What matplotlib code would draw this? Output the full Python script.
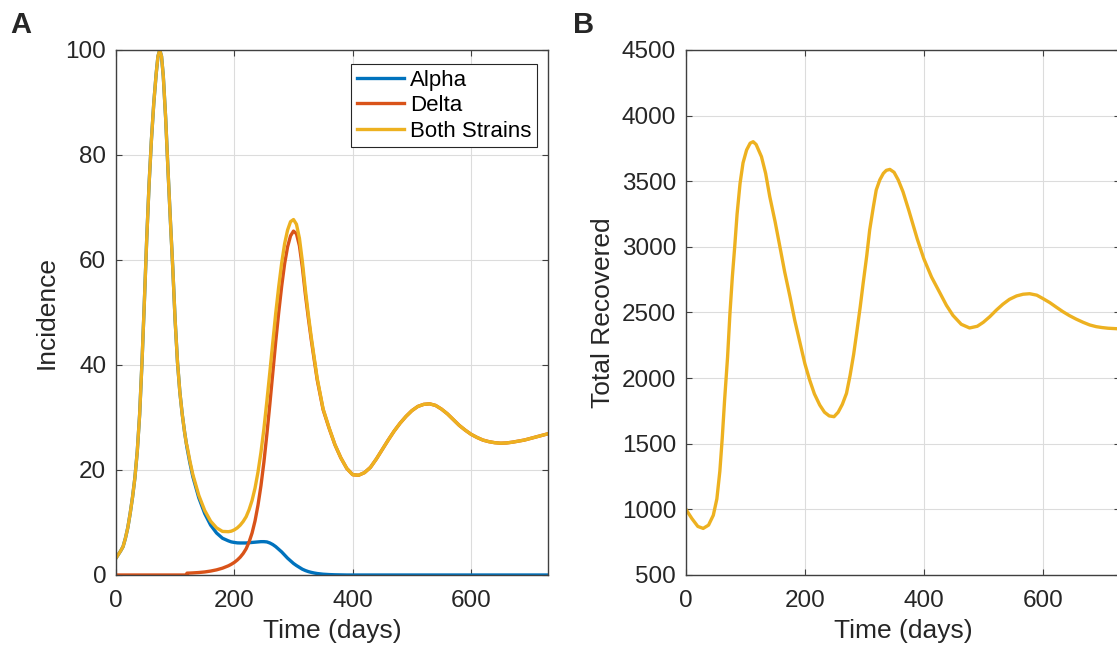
import numpy as np
import matplotlib
matplotlib.use("Agg")
import matplotlib.pyplot as plt

# colours of the two strains and their sum (matlab defaults)
BLUE = "#0072BD"
RED = "#D95319"
YELLOW = "#EDB120"

# panel A - incidence
days = [0, 4, 8, 12, 16, 20, 24, 28, 32, 36, 40, 44, 48, 52, 56, 60, 64, 68, 71, 74,
        77, 80, 84, 88, 92, 96, 100, 104, 108, 112, 116, 119, 120, 125, 130, 140, 150,
        160, 170, 180, 190, 195, 200, 205, 210, 215, 220, 225, 230, 235, 240, 245, 250,
        255, 260, 265, 270, 275, 280, 285, 290, 295, 300, 305, 310, 315, 320, 325, 330,
        335, 340, 350, 360, 370, 380, 390, 400, 410, 420, 430, 440, 450, 460, 470, 480,
        490, 500, 510, 520, 530, 540, 550, 560, 570, 580, 590, 600, 610, 620, 630, 640,
        650, 660, 670, 680, 690, 700, 710, 720, 730]

alpha = [3.2, 3.9, 4.6, 5.4, 7.0, 9.0, 11.7, 14.8, 18.5, 23.5, 30.5, 40.5, 52, 64, 74.5,
         83, 90, 95.5, 98.8, 100, 98.8, 95, 87, 77, 67.5, 58.5, 48.5, 40.5, 34.8, 30.6, 27.2,
         25.0, 24.3, 21.3, 18.7, 14.7, 11.7, 9.5, 8.0, 7.0, 6.5, 6.3, 6.2, 6.12, 6.1, 6.1,
         6.1, 6.15, 6.2, 6.25, 6.3, 6.35, 6.35, 6.3, 6.1, 5.8, 5.4, 4.9, 4.4, 3.8, 3.2, 2.7,
         2.2, 1.8, 1.45, 1.1, 0.85, 0.65, 0.5, 0.38, 0.28, 0.15, 0.08, 0.04, 0.02, 0, 0, 0,
         0, 0, 0, 0, 0, 0, 0, 0, 0, 0, 0, 0, 0, 0, 0, 0, 0, 0, 0, 0, 0, 0, 0, 0, 0, 0, 0,
         0, 0, 0, 0, 0]

delta = [0, 0, 0, 0, 0, 0, 0, 0, 0, 0, 0, 0, 0, 0, 0, 0, 0, 0, 0, 0, 0, 0, 0, 0, 0, 0,
         0, 0, 0, 0, 0, 0, 0.35, 0.37, 0.4, 0.47, 0.58, 0.75, 0.98, 1.3, 1.75, 2.05, 2.4,
         2.85, 3.4, 4.1, 5.0, 6.3, 8.0, 10.3, 13.3, 17.0, 21.5, 26.8, 32.5, 38.5, 44.5, 50.0,
         55.0, 59.3, 62.5, 64.6, 65.5, 65.0, 62.7, 58.6, 53.5, 49.0, 44.8, 41.0, 37.2, 31.5,
         28.0, 24.8, 22.3, 20.3, 19.1, 19.0, 19.5, 20.5, 22.1, 23.9, 25.7, 27.4, 28.9, 30.2,
         31.3, 32.1, 32.5, 32.6, 32.3, 31.6, 30.7, 29.6, 28.5, 27.6, 26.8, 26.2, 25.7, 25.4,
         25.2, 25.1, 25.15, 25.3, 25.5, 25.7, 26.0, 26.3, 26.6, 26.9]

# panel B - total recovered
daysB = [0, 10, 20, 29, 38, 46, 52, 57, 61, 65, 70, 74, 78, 82, 86, 91, 96, 102, 108, 113,
         118, 127, 134, 141, 150, 158, 166, 175, 183, 192, 200, 208, 216, 225, 233, 241,
         249, 256, 263, 270, 276, 282, 287, 293, 298, 304, 309, 315, 320, 326, 332, 337,
         343, 350, 357, 365, 375, 389, 400, 413, 427, 438, 449, 463, 477, 490, 500, 511,
         522, 533, 544, 556, 567, 578, 590, 600, 612, 623, 634, 645, 656, 668, 679, 690,
         700, 710, 718, 730]

recovered = [1000, 930, 870, 855, 880, 955, 1080, 1290, 1540, 1833, 2160, 2494, 2770,
             3001, 3250, 3484, 3640, 3738, 3790, 3801, 3780, 3687, 3560, 3382, 3190, 3001,
             2810, 2620, 2440, 2265, 2110, 1986, 1880, 1795, 1740, 1712, 1706, 1740, 1800,
             1884, 2020, 2180, 2341, 2540, 2722, 2930, 3129, 3300, 3433, 3510, 3560, 3583,
             3590, 3568, 3510, 3420, 3275, 3060, 2910, 2770, 2650, 2555, 2478, 2410, 2382,
             2395, 2425, 2468, 2518, 2563, 2600, 2626, 2639, 2643, 2632, 2607, 2575, 2540,
             2506, 2476, 2450, 2425, 2405, 2392, 2385, 2380, 2378, 2375]

xticks = [0, 200, 400, 600]
yticksA = [0, 20, 40, 60, 80, 100]
yticksB = list(range(500, 5000, 500))

plt.rcParams["font.family"] = ["Liberation Sans", "DejaVu Sans"]
plt.rcParams["xtick.direction"] = "in"
plt.rcParams["ytick.direction"] = "in"
plt.rcParams["xtick.top"] = True
plt.rcParams["ytick.right"] = True

fig = plt.figure(figsize=(11.17, 6.54), dpi=100)
axA = fig.add_axes([0.1038, 0.1208, 0.3868, 0.8028])
axB = fig.add_axes([0.6141, 0.1208, 0.3886, 0.8028])

both = np.array(alpha) + np.array(delta)
axA.plot(days, alpha, color=BLUE, lw=2.4, label="Alpha")
axA.plot(days, delta, color=RED, lw=2.4, label="Delta")
axA.plot(days, both, color=YELLOW, lw=2.4, label="Both Strains")
axB.plot(daysB, recovered, color=YELLOW, lw=2.4)

for ax, yt in [(axA, yticksA), (axB, yticksB)]:
    ax.set_xlim(0, 730)
    ax.set_xticks(xticks)
    ax.set_yticks(yt)
    ax.set_ylim(yt[0], yt[-1])
    ax.grid(True, color="#dcdcdc", lw=0.8)
    ax.set_axisbelow(True)
    ax.tick_params(labelsize=17.5, length=4, width=0.8, colors="#404040",
                   labelcolor="#262626")
    ax.tick_params(axis="x", pad=11)
    ax.tick_params(axis="y", pad=7)
    for s in ax.spines.values():
        s.set_color("#404040")
        s.set_linewidth(1.0)
    ax.set_xlabel("Time (days)", fontsize=19, color="#262626", labelpad=5)

axA.set_ylabel("Incidence", fontsize=19, color="#262626", labelpad=5)
axB.set_ylabel("Total Recovered", fontsize=19, color="#262626", labelpad=5)

leg = axA.legend(loc="upper right", bbox_to_anchor=(0.975, 0.973), fontsize=16,
                 fancybox=False, framealpha=1, edgecolor="#262626",
                 handlelength=2.1, handletextpad=0.3, labelspacing=0.2,
                 borderpad=0.25, borderaxespad=0)
leg.get_frame().set_linewidth(0.8)

fig.text(0.009, 0.95, "A", fontsize=21, fontweight="bold", color="#262626")
fig.text(0.513, 0.95, "B", fontsize=21, fontweight="bold", color="#262626")

fig.savefig("out.png", dpi=100)
